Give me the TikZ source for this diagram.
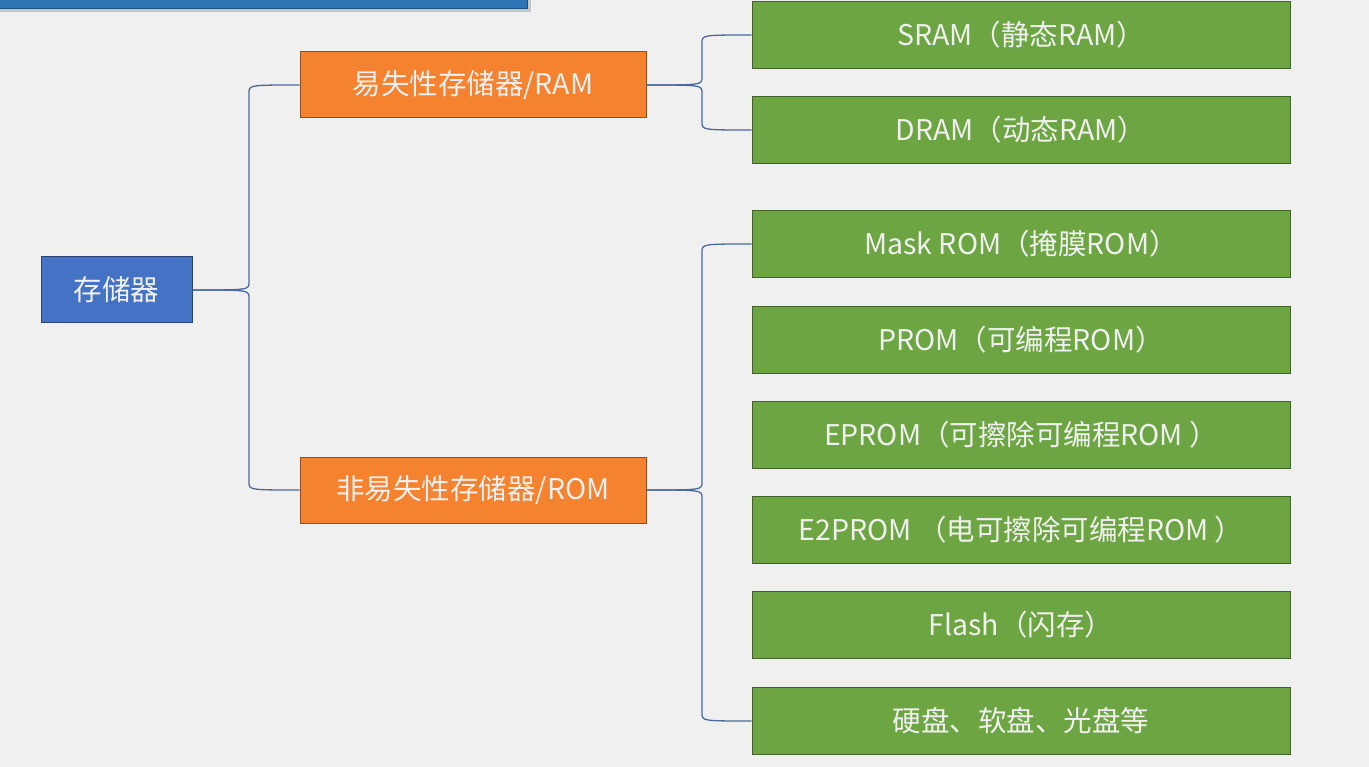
\documentclass[tikz,border=0pt]{standalone}
\usepackage{fontspec}
\setmainfont{Noto Sans CJK SC}
\usetikzlibrary{calc}

\definecolor{bgcol}{HTML}{F0F0F0}
\definecolor{barcol}{HTML}{2E75B6}
\definecolor{rootcol}{HTML}{4472C4}
\definecolor{ramcol}{HTML}{F4822E}
\definecolor{leafcol}{HTML}{6DA543}
\definecolor{linkcol}{HTML}{4A6A9E}

% parent, child, trunk coordinate, bend offset
\newcommand{\bracelink}[4]{%
\draw[link] (#1.east) .. controls (#1.east -| #3) .. ($(#1.east -| #3)+(0,#4)$)
  -- ($(#2.west -| #3)-(0,#4)$) .. controls (#2.west -| #3) .. (#2.west);}

\begin{document}
\begin{tikzpicture}[x=1pt,y=-1pt,
  rootbox/.style={fill=rootcol,draw=rootcol!60!black,line width=1pt,
    minimum width=151pt,minimum height=66pt,inner sep=0pt,text=white!94!black,
    font=\fontsize{28.5}{32}\selectfont},
  midbox/.style={rootbox,fill=ramcol,draw=ramcol!60!black,minimum width=346pt},
  leafbox/.style={rootbox,fill=leafcol,draw=leafcol!60!black,minimum width=538pt,
    minimum height=67pt},
  link/.style={draw=linkcol,line width=1.3pt}]
\useasboundingbox[fill=bgcol] (0,0) rectangle (1369,767);

% title bar (cut off at the top)
\fill[gray!45] (0,-5) rectangle (531,12);
\fill[barcol,draw=barcol!70!black] (-1,-5) rectangle (527,8);

\node[rootbox] (mem) at (116.5,290) {存储器};

\node[midbox] (ram) at (473,85) {易失性存储器/RAM};
\node[midbox] (rom) at (473,490) {非易失性存储器/ROM};

\node[leafbox] (sram)  at (1021,35)  {SRAM（静态RAM）};
\node[leafbox] (dram)  at (1021,130) {DRAM（动态RAM）};
\node[leafbox] (mask)  at (1021,244) {Mask ROM（掩膜ROM）};
\node[leafbox] (prom)  at (1021,340) {PROM（可编程ROM）};
\node[leafbox] (eprom) at (1021,435) {EPROM（可擦除可编程ROM ）};
\node[leafbox] (eeprom) at (1021,530) {E2PROM （电可擦除可编程ROM ）};
\node[leafbox] (flash) at (1021,625) {Flash（闪存）};
\node[leafbox] (disk)  at (1021,721) {硬盘、软盘、光盘等};

\coordinate (t1) at (249,0);
\coordinate (t2) at (702,0);

\bracelink{mem}{ram}{t1}{-8}
\bracelink{mem}{rom}{t1}{8}
\bracelink{ram}{sram}{t2}{-8}
\bracelink{ram}{dram}{t2}{8}
\bracelink{rom}{mask}{t2}{-8}
\bracelink{rom}{disk}{t2}{8}
\end{tikzpicture}
\end{document}
